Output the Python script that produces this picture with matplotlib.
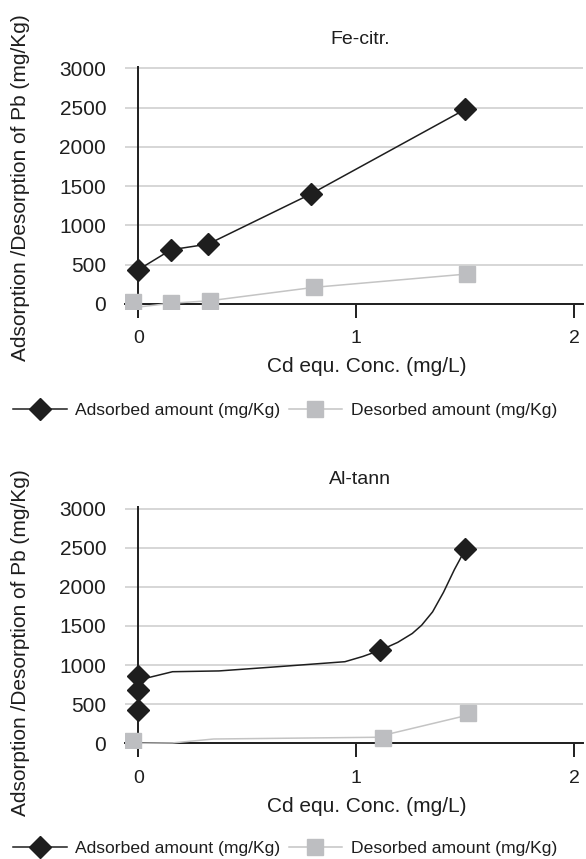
import matplotlib
matplotlib.use("Agg")
import matplotlib.pyplot as plt
from matplotlib.lines import Line2D

plt.rcParams['font.family'] = ['Liberation Sans', 'DejaVu Sans']

# Fe-citr. panel
fe_ads_x = [0.0, 0.15, 0.32, 0.79, 1.50]
fe_ads_y = [436, 690, 762, 1398, 2478]
fe_des_x = [-0.026, 0.15, 0.33, 0.807, 1.506]
fe_des_y = [29, 9, 42, 212, 381]
fe_des_line_x = [-0.05, 0.15, 0.33, 0.807, 1.506]
fe_des_line_y = [-55, 9, 42, 212, 381]

# Al-tann panel
al_ads_x = [0.0, 0.0, 0.0, 1.111, 1.50]
al_ads_y = [856, 681, 425, 1191, 2478]
al_ads_line_x = [0.0, 0.157, 0.37, 0.62, 0.948, 1.03, 1.111, 1.19, 1.257,
                 1.30, 1.35, 1.40, 1.45, 1.50]
al_ads_line_y = [808, 915, 925, 975, 1043, 1110, 1191, 1290, 1404,
                 1510, 1680, 1930, 2220, 2478]
al_des_x = [-0.024, 1.123, 1.512]
al_des_y = [33, 72, 383]
al_des_line_x = [0.0, 0.157, 0.346, 1.086, 1.512]
al_des_line_y = [0, 5, 55, 77, 360]

y_ticks = [0, 500, 1000, 1500, 2000, 2500, 3000]
x_ticks = [0, 1, 2]

BLACK = '#1e1e1e'
GRAY = '#bdbec1'
GRAY_LINE = '#c4c4c4'
GRID = '#d6d6d6'

W, H = 586, 859
fig = plt.figure(figsize=(W / 100, H / 100), dpi=100)


def setup(ax):
    ax.set_xlim(-0.061, 2.04)
    ax.set_ylim(-60, 3033)
    for s in ['top', 'right', 'left']:
        ax.spines[s].set_visible(False)
    ax.spines['bottom'].set_position(('data', 0))
    ax.spines['bottom'].set_linewidth(1.4)
    ax.spines['bottom'].set_color(BLACK)
    ax.set_yticks(y_ticks)
    ax.set_xticks(x_ticks)
    ax.yaxis.grid(True, color=GRID, lw=1.4)
    ax.set_axisbelow(True)
    ax.tick_params(axis='y', length=0, pad=13.5, labelsize=15, labelcolor=BLACK)
    ax.tick_params(axis='x', direction='out', length=10, width=1.4, color=BLACK,
                   labelsize=14, pad=9, labelcolor=BLACK)
    ax.axvline(0, color=BLACK, lw=1.4, zorder=2)


def panel(ax, ads_lx, ads_ly, ads_x, ads_y, des_lx, des_ly, des_x, des_y):
    setup(ax)
    ax.plot(des_lx, des_ly, color=GRAY_LINE, lw=1.1, zorder=3)
    ax.plot(des_x, des_y, linestyle='none', marker='s', ms=11.5, color=GRAY, zorder=4)
    ax.plot(ads_lx, ads_ly, color=BLACK, lw=1.1, zorder=5)
    ax.plot(ads_x, ads_y, linestyle='none', marker='D', ms=11, color=BLACK, zorder=6)


ax1 = fig.add_axes([125 / W, 1 - 308.7 / H, 458 / W, 243 / H])
panel(ax1, fe_ads_x, fe_ads_y, fe_ads_x, fe_ads_y,
      fe_des_line_x, fe_des_line_y, fe_des_x, fe_des_y)

ax2 = fig.add_axes([125 / W, 1 - 748 / H, 458 / W, 242 / H])
panel(ax2, al_ads_line_x, al_ads_line_y, al_ads_x, al_ads_y,
      al_des_line_x, al_des_line_y, al_des_x, al_des_y)

ylab = 'Adsorption /Desorption of Pb (mg/Kg)'
xlab = 'Cd equ. Conc. (mg/L)'
for title, ty, yl_y, xl_y, leg_y in [('Fe-citr.', 40, 188, 367, 410),
                                     ('Al-tann', 480, 643, 807, 848)]:
    fig.text(360 / W, 1 - ty / H, title, ha='center', va='center', fontsize=14, color=BLACK)
    fig.text(20.7 / W, 1 - yl_y / H, ylab, rotation=90, ha='center', va='center',
             fontsize=15, color=BLACK)
    fig.text(366.7 / W, 1 - xl_y / H, xlab, ha='center', va='center', fontsize=15, color=BLACK)
    handles = [Line2D([], [], color=BLACK, lw=1.1, marker='D', ms=11),
               Line2D([], [], color=GRAY_LINE, lw=1.1, marker='s', ms=11.5,
                      markerfacecolor=GRAY, markeredgecolor=GRAY)]
    fig.legend(handles, ['Adsorbed amount (mg/Kg)', 'Desorbed amount (mg/Kg)'],
               loc='center left', bbox_to_anchor=(13 / W, 1 - leg_y / H), ncol=2,
               frameon=False, fontsize=12.6, borderpad=0, borderaxespad=0,
               handlelength=3.06, handletextpad=0.5, columnspacing=0.46,
               labelcolor=BLACK)

fig.savefig('out.png', dpi=100)
